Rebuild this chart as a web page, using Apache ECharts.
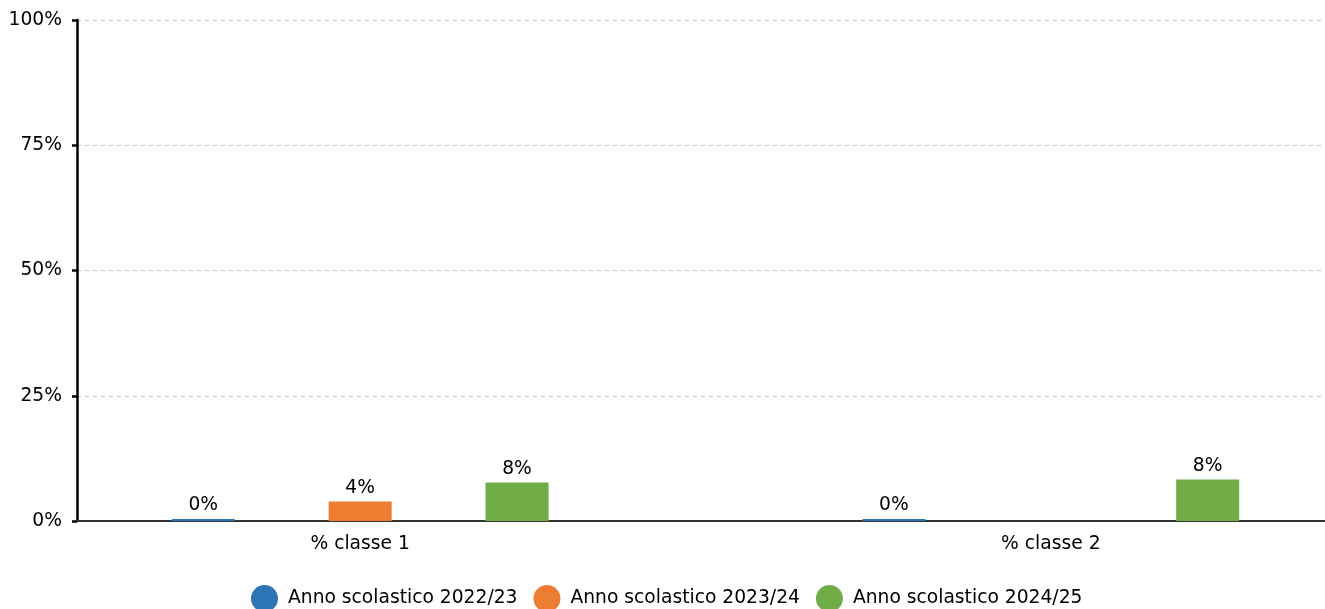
<!DOCTYPE html>
<html>
<head>
<meta charset="utf-8">
<script src="https://cdn.jsdelivr.net/npm/echarts@6/dist/echarts.min.js"></script>
<style>
  html, body { margin: 0; padding: 0; background: #fff; }
  #chart { width: 1325px; height: 609px; }
</style>
</head>
<body>
<div id="chart"></div>
<script>
// data
const categories = ['% classe 1', '% classe 2'];
const seriesNames = ['Anno scolastico 2022/23', 'Anno scolastico 2023/24', 'Anno scolastico 2024/25'];
const values2223 = [0, 0];
const values2324 = [3.9, null];
const values2425 = [7.7, 8.3];
const yTicks = [0, 25, 50, 75, 100];
const colors = ['#2E75B6', '#ED7D31', '#70AD47'];

const FONT = 'DejaVu Sans';
const FS = 18.7;

function pairs(vals) {
  // category index -> x position on the value axis
  return vals.map((v, i) => [i, v]);
}

function barSeries(name, vals, color, extra) {
  return Object.assign({
    name,
    type: 'bar',
    data: pairs(vals),
    barWidth: 63,
    barGap: '149%',
    itemStyle: { color },
    label: {
      show: true,
      position: 'top',
      distance: 4,
      color: '#000',
      fontFamily: FONT,
      fontSize: FS,
      formatter: (p) => p.value[1] == null ? '' : Math.round(p.value[1]) + '%'
    }
  }, extra || {});
}

const chart = echarts.init(document.getElementById('chart'), null, { renderer: 'canvas' });

chart.setOption({
  animation: false,
  color: colors,
  textStyle: { fontFamily: FONT },
  grid: { left: 77, right: 0, top: 20, bottom: 88, containLabel: false },
  legend: {
    top: 580,
    left: 246,
    icon: 'circle',
    itemWidth: 27,
    itemHeight: 27,
    itemGap: 16,
    data: seriesNames,
    textStyle: { fontFamily: FONT, fontSize: FS, color: '#000', padding: [0, 0, 0, 5] }
  },
  xAxis: {
    type: 'value',
    min: -0.41,
    max: 1.397,
    axisLine: { show: true, onZero: false, lineStyle: { color: '#333', width: 2 } },
    axisTick: { show: false },
    splitLine: { show: false },
    axisLabel: {
      customValues: categories.map((c, i) => i),
      formatter: (v) => categories[Math.round(v)] || '',
      color: '#000',
      fontFamily: FONT,
      fontSize: FS,
      margin: 14
    }
  },
  yAxis: {
    type: 'value',
    min: yTicks[0],
    max: yTicks[yTicks.length - 1],
    interval: 25,
    axisLine: { show: true, onZero: false, lineStyle: { color: '#000', width: 2.5 } },
    axisTick: { show: true, length: 5, lineStyle: { color: '#000', width: 2.5 } },
    splitLine: { show: true, lineStyle: { color: '#c4c4c4', type: [4, 4], width: 1 } },
    axisLabel: {
      color: '#000',
      fontFamily: FONT,
      fontSize: FS,
      margin: 15,
      formatter: (v) => v + '%'
    }
  },
  series: [
    barSeries(seriesNames[0], values2223, colors[0], { barMinHeight: 2 }),
    barSeries(seriesNames[1], values2324, colors[1]),
    barSeries(seriesNames[2], values2425, colors[2])
  ]
});
</script>
</body>
</html>
